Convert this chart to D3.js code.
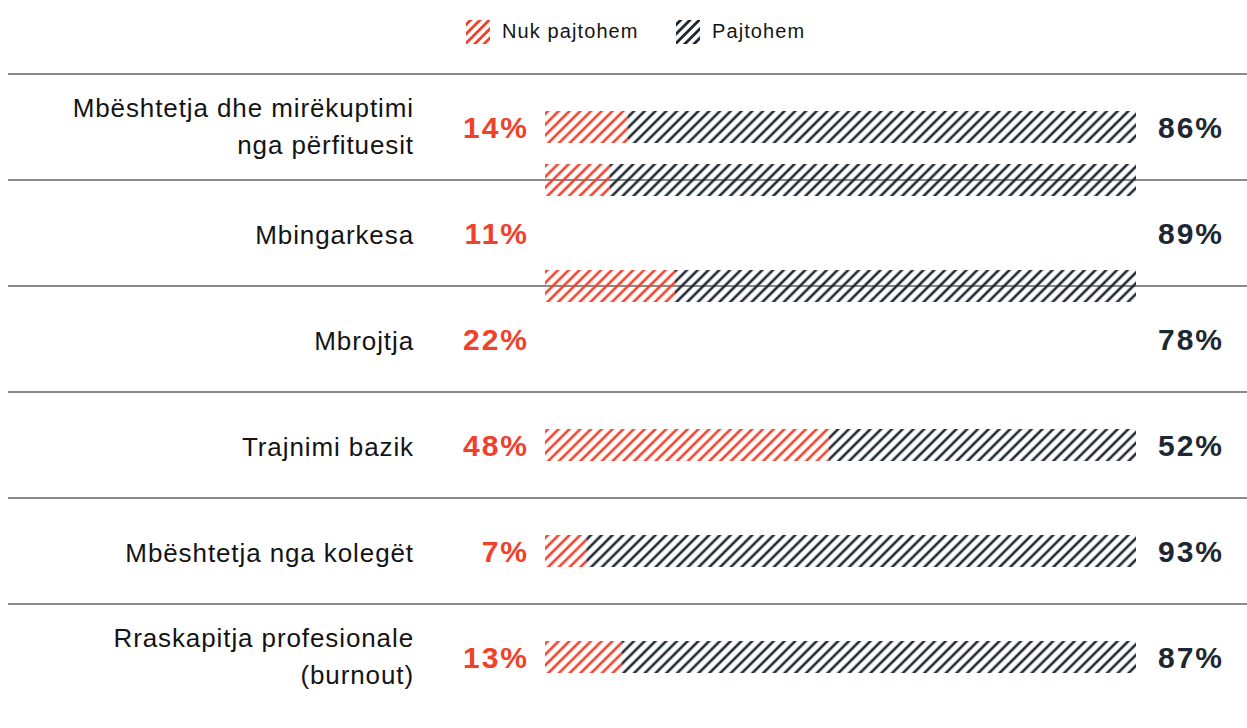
<!DOCTYPE html>
<html>
<head>
<meta charset="utf-8">
<script src="https://cdn.jsdelivr.net/npm/d3@7"></script>
<style>
  body { margin: 0; background: #fff; }
  svg { display: block; font-family: "Liberation Sans", Arial, sans-serif; }
</style>
</head>
<body>
<svg id="chart" width="1247" height="728"></svg>
<script>
// data
const categories = [
    ["Mbështetja dhe mirëkuptimi", "nga përfituesit"],
    ["Mbingarkesa"],
    ["Mbrojtja"],
    ["Trajnimi bazik"],
    ["Mbështetja nga kolegët"],
    ["Rraskapitja profesionale", "(burnout)"]
];
const disagree = [14, 11, 22, 48, 7, 13];
const agree = [86, 89, 78, 52, 93, 87];
const seriesNames = ["Nuk pajtohem", "Pajtohem"];

const colors = {red: "#f0412b", dark: "#1e2832", text: "#141414", rule: "#8a8a8a"};

const svg = d3.select("#chart");
const defs = svg.append("defs");

// hatch patterns, stripes "/"
function hatch(id, color, gap, sw) {
    const p = defs.append("pattern")
        .attr("id", id)
        .attr("patternUnits", "userSpaceOnUse")
        .attr("width", gap).attr("height", gap)
        .attr("patternTransform", "rotate(45)");
    p.append("line")
        .attr("x1", gap / 2).attr("x2", gap / 2)
        .attr("y1", 0).attr("y2", gap)
        .attr("stroke", color)
        .attr("stroke-width", sw);
}
hatch("hatch-red", colors.red, 7.6, 2.6);
hatch("hatch-dark", colors.dark, 7.6, 2.6);
hatch("leg-red", colors.red, 6.6, 2.8);
hatch("leg-dark", colors.dark, 6.6, 2.8);

const rowKeys = categories.map(d => d.join(" "));
const y = d3.scaleBand().domain(rowKeys).range([74, 710]);
const x = d3.scaleLinear().domain([0, 100]).range([545, 1136]);
const barH = 32;
// the 2nd and 3rd bars sit on the row rule above them
const barShift = [0, -0.5, -0.5, 0, 0, 0];

const rows = categories.map((c, i) => ({
    key: rowKeys[i], lines: c, dis: disagree[i], agr: agree[i], shift: barShift[i]
}));

// row rules
svg.append("g").selectAll("line")
    .data(rows)
    .join("line")
    .attr("x1", 8).attr("x2", 1247)
    .attr("y1", d => y(d.key)).attr("y2", d => y(d.key))
    .attr("stroke", colors.rule)
    .attr("stroke-width", 2);

const row = svg.append("g").selectAll("g")
    .data(rows)
    .join("g")
    .attr("transform", d => `translate(0,${y(d.key) + y.bandwidth() / 2})`);

// bars
row.append("rect")
    .attr("x", x(0))
    .attr("y", d => d.shift * y.bandwidth() - barH / 2)
    .attr("width", d => x(d.dis) - x(0))
    .attr("height", barH)
    .attr("fill", "url(#hatch-red)");
row.append("rect")
    .attr("x", d => x(d.dis))
    .attr("y", d => d.shift * y.bandwidth() - barH / 2)
    .attr("width", d => x(d.dis + d.agr) - x(d.dis))
    .attr("height", barH)
    .attr("fill", "url(#hatch-dark)");

// category labels
const lab = row.append("text")
    .attr("text-anchor", "end")
    .attr("font-size", 26)
    .attr("letter-spacing", 0.9)
    .attr("fill", colors.text);
lab.selectAll("tspan")
    .data(d => d.lines.map((t, i) => ({t, i, n: d.lines.length})))
    .join("tspan")
    .attr("x", 414)
    .attr("y", d => d.n > 1 ? (d.i - 0.5) * 37 + 8 : 11)
    .text(d => d.t);

// percentages
row.append("text")
    .attr("x", 529)
    .attr("y", 11)
    .attr("text-anchor", "end")
    .attr("font-size", 30)
    .attr("font-weight", "bold")
    .attr("letter-spacing", 2)
    .attr("fill", colors.red)
    .text(d => d.dis + "%");
row.append("text")
    .attr("x", 1224)
    .attr("y", 11)
    .attr("text-anchor", "end")
    .attr("font-size", 30)
    .attr("font-weight", "bold")
    .attr("letter-spacing", 2)
    .attr("fill", colors.dark)
    .text(d => d.agr + "%");

// legend
const legend = svg.append("g").selectAll("g")
    .data(seriesNames)
    .join("g")
    .attr("transform", (d, i) => `translate(${i ? 676 : 466},20)`);
legend.append("rect")
    .attr("width", 24).attr("height", 24)
    .attr("fill", (d, i) => i ? "url(#leg-dark)" : "url(#leg-red)");
legend.append("text")
    .attr("x", 36).attr("y", 18)
    .attr("font-size", 20)
    .attr("letter-spacing", 1.1)
    .attr("fill", colors.text)
    .text(d => d);
</script>
</body>
</html>
